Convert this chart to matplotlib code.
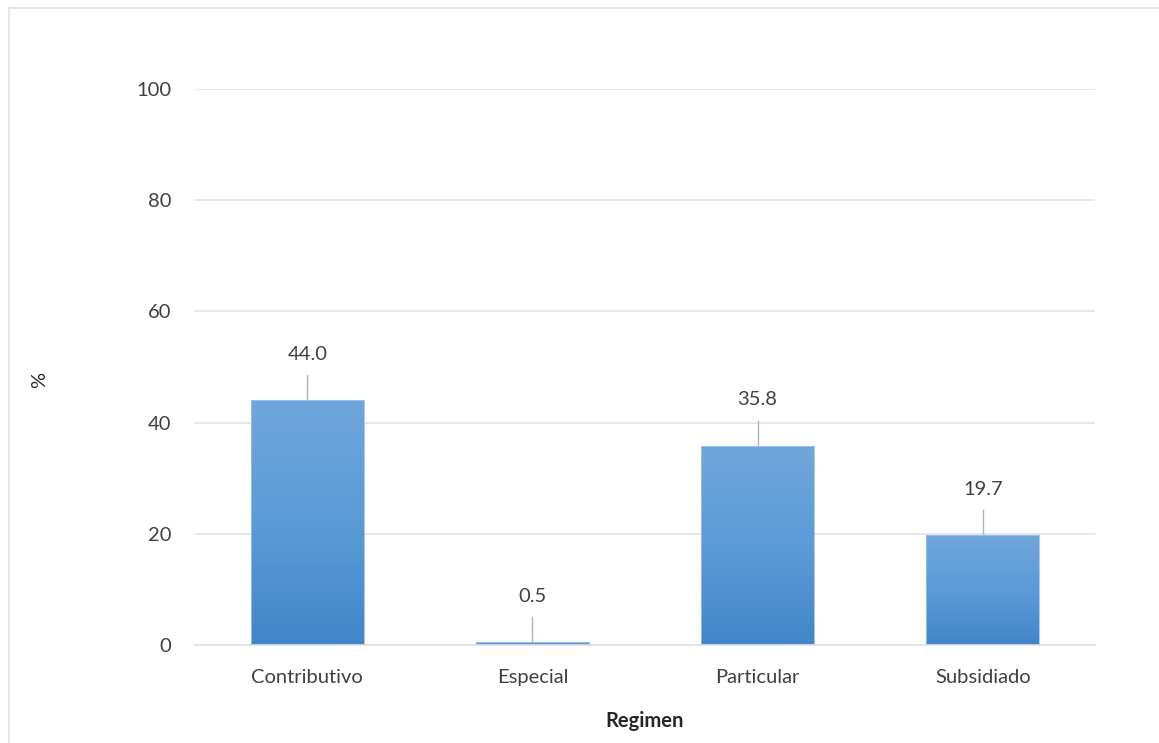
import numpy as np
import matplotlib.pyplot as plt
from matplotlib.colors import LinearSegmentedColormap
from matplotlib.lines import Line2D

categories = ["Contributivo", "Especial", "Particular", "Subsidiado"]
values = [44.0, 0.5, 35.8, 19.7]
yticks = [0, 20, 40, 60, 80, 100]

plt.rcParams['font.family'] = ['Lato', 'DejaVu Sans']

fig = plt.figure(figsize=(11.59, 7.43), dpi=100)
ax = fig.add_axes([0.168, 0.132, 0.777, 0.748])

x = np.arange(len(categories))
bars = ax.bar(x, values, width=0.5, color='none', edgecolor='#9DC3E6', linewidth=0.6, zorder=3)

# vertical gradient inside each bar, lighter at top
grad_cmap = LinearSegmentedColormap.from_list('bluegrad', ['#4286C9', '#5B9BD8', '#70A6DB'])
grad = np.linspace(0, 1, 256).reshape(-1, 1)
for b in bars:
    x0, y0 = b.get_x(), b.get_y()
    w, h = b.get_width(), b.get_height()
    im = ax.imshow(grad, cmap=grad_cmap, origin='lower', aspect='auto',
                   extent=[x0, x0 + w, y0, y0 + h], zorder=2)
    im.set_clip_path(b)

# data labels with leader lines
offset = 8.3
for xi, v in zip(x, values):
    ax.text(xi, v + offset, f"{v:.1f}", ha='center', va='center', fontsize=14.5, color='#404040', zorder=4)
    ax.plot([xi, xi], [v, v + offset - 3.8], color='#A6B4C8', linewidth=1, zorder=4)

ax.set_xlim(-0.5, len(categories) - 0.5)
ax.set_ylim(0, 100)
ax.set_yticks(yticks)
ax.set_xticks(x)
ax.set_xticklabels(categories)
ax.tick_params(axis='both', length=0, labelsize=14.5, labelcolor='#404040')
ax.tick_params(axis='y', pad=17)
ax.tick_params(axis='x', pad=17)
ax.grid(axis='y', color='#DDE2EA', linewidth=1.2, zorder=0)
ax.set_axisbelow(True)
for s in ['top', 'right', 'left']:
    ax.spines[s].set_visible(False)
ax.spines['bottom'].set_color('#DDE2EA')
ax.spines['bottom'].set_linewidth(1.2)

ax.set_xlabel("Regimen", fontsize=14.5, fontweight='bold', color='#262626', labelpad=18)
fig.text(40 / 1159, 1 - 380 / 743, "%", rotation=90, ha='center', va='center', fontsize=14.5, color='#262626')

# chart border (top and left visible)
fig.add_artist(Line2D([9 / 1159, 9 / 1159], [0, 1 - 8 / 743], transform=fig.transFigure, color='#DDE2EA', linewidth=1.2))
fig.add_artist(Line2D([9 / 1159, 1], [1 - 8 / 743, 1 - 8 / 743], transform=fig.transFigure, color='#DDE2EA', linewidth=1.2))

fig.savefig("out.png", dpi=100, facecolor='white')
